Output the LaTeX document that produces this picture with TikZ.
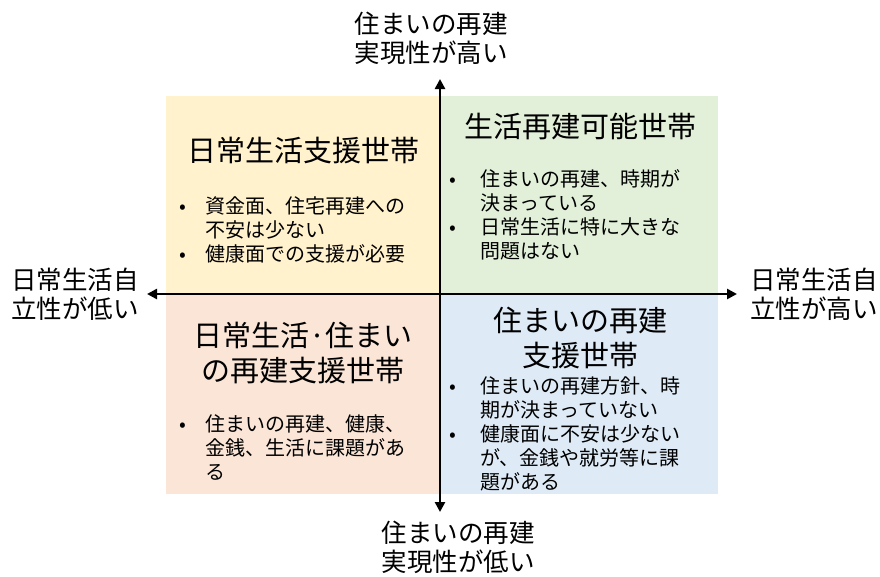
\documentclass[tikz,border=0pt]{standalone}
\usepackage{fontspec}
\newfontfamily\cjk{Noto Sans CJK JP}
\usetikzlibrary{arrows.meta}
\definecolor{qyel}{HTML}{FFF2CC}
\definecolor{qgrn}{HTML}{E2F0D9}
\definecolor{qpnk}{HTML}{FBE5D6}
\definecolor{qblu}{HTML}{DEEBF7}
\newcommand{\qbulA}{\makebox[0pt][c]{•}\hspace*{22pt}}
\newcommand{\qindA}{\hspace*{22pt}}
\newcommand{\qbulB}{\makebox[0pt][c]{•}\hspace*{27pt}}
\newcommand{\qindB}{\hspace*{27pt}}
\begin{document}
\begin{tikzpicture}[x=1pt,y=-1pt,
  axlab/.style={font=\cjk\fontsize{25.5}{29}\selectfont, align=center, inner sep=0pt},
  qtitle/.style={font=\cjk\fontsize{29}{35}\selectfont, align=center, inner sep=0pt},
  qlist/.style={font=\cjk\fontsize{20}{24}\selectfont, align=left, inner sep=0pt, anchor=west},
  axis/.style={line width=2.6pt, {Triangle[length=10pt,width=10pt]}-{Triangle[length=10pt,width=10pt]}}]
\useasboundingbox (0,0) rectangle (880,576);
% quadrants
\fill[qyel] (166,96) rectangle (440,294);
\fill[qgrn] (440,96) rectangle (718,294);
\fill[qpnk] (166,294) rectangle (440,494);
\fill[qblu] (440,294) rectangle (718,494);
% axes
\coordinate (vt) at (440,79);
\coordinate (vb) at (440,512);
\coordinate (hl) at (147,294);
\coordinate (hr) at (737,294);
\draw[axis] (vb) -- (vt);
\draw[axis] (hl) -- (hr);
% axis labels
\node[axlab] (ltop) at (431,38.5) {住まいの再建\\実現性が高い};
\node[axlab] (lbot) at (458,547) {住まいの再建\\実現性が低い};
\node[axlab] (lleft) at (75,294.5) {日常生活自\\立性が低い};
\node[axlab] (lright) at (814,294.5) {日常生活自\\立性が高い};
% titles
\node[qtitle] (ttl) at (303,151) {日常生活支援世帯};
\node[qtitle] (ttr) at (580,126) {生活再建可能世帯};
\node[qtitle] (tbl) at (303,352.5) {日常生活·住まい\\の再建支援世帯};
\node[qtitle] (tbr) at (580,338) {住まいの再建\\支援世帯};
% bullet lists
\node[qlist] (btl) at (183,230) {\qbulA 資金面、住宅再建への\\\qindA 不安は少ない\\\qbulA 健康面での支援が必要};
\node[qlist] (btr) at (453,215) {\qbulB 住まいの再建、時期が\\\qindB 決まっている\\\qbulB 日常生活に特に大きな\\\qindB 問題はない};
\node[qlist] (bbl) at (183,448) {\qbulA 住まいの再建、健康、\\\qindA 金銭、生活に課題があ\\\qindA る};
\node[qlist] (bbr) at (453,434) {\qbulB 住まいの再建方針、時\\\qindB 期が決まっていない\\\qbulB 健康面に不安は少ない\\\qindB が、金銭や就労等に課\\\qindB 題がある};
\end{tikzpicture}
\end{document}
